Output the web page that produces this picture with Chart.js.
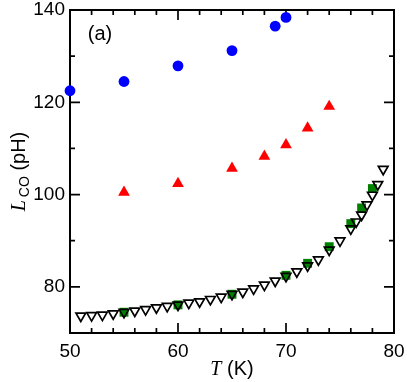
<!DOCTYPE html>
<html>
<head>
<meta charset="utf-8">
<script src="https://cdn.jsdelivr.net/npm/chart.js@4.4.0/dist/chart.umd.min.js"></script>
<style>
  body { margin: 0; background: #fff; }
  #wrap { width: 407px; height: 382px; position: relative; }
</style>
</head>
<body>
<div id="wrap"><canvas id="chartL"></canvas></div>
<script>
// blue circles
const circT = [50, 55, 60, 65, 69, 70];
const circL = [122.5, 124.5, 127.9, 131.2, 136.5, 138.4];
// red triangles
const triT = [55, 60, 65, 68, 70, 72, 74];
const triL = [100.5, 102.4, 105.7, 108.3, 110.8, 114.4, 119.1];
// green squares
const sqT = [55, 60, 65, 70, 72, 74, 76, 77, 78];
const sqL = [74.5, 76.1, 78.4, 82.5, 85.1, 88.7, 93.7, 97.1, 101.3];
// open down triangles
const invT = [51, 52, 53, 54, 55, 56, 57, 58, 59, 60, 61, 62, 63, 64, 65, 66, 67, 68, 69, 70,
  71, 72, 73, 74, 75, 76, 76.5, 77, 77.5, 78, 78.5, 79];
const invL = [73.7, 73.8, 73.9, 74.2, 74.5, 74.8, 75.1, 75.5, 75.8, 76.1, 76.5, 76.8, 77.3, 77.8, 78.4, 78.9, 79.6, 80.4, 81.3, 82.3,
  83.3, 84.6, 85.9, 88.0, 90.0, 92.6, 94.1, 95.6, 97.8, 99.9, 102.2, 105.5];

const xMin = 50, xMax = 80, xStep = 2;
const yMin = 70, yMax = 140, yStep = 10;

const SANS = "'Liberation Sans', Arial, sans-serif";
const SERIF = "'Liberation Serif', 'Times New Roman', serif";

function pts(xs, ys) {
  return xs.map((x, i) => ({ x: x, y: ys[i] }));
}

// box, inward ticks and axis titles
const frame = {
  id: 'frame',
  beforeDatasetsDraw(chart) {
    const ctx = chart.ctx;
    const a = chart.chartArea;
    const xs = chart.scales.x;
    const ys = chart.scales.y;
    ctx.save();
    ctx.strokeStyle = '#000';
    ctx.lineWidth = 2;
    ctx.strokeRect(a.left, a.top, a.right - a.left, a.bottom - a.top);

    ctx.lineWidth = 1.7;
    ctx.beginPath();
    xs.ticks.forEach(t => {
      const px = xs.getPixelForValue(t.value);
      const len = t.value % 10 === 0 ? 10 : 5;
      ctx.moveTo(px, a.bottom); ctx.lineTo(px, a.bottom - len);
      ctx.moveTo(px, a.top); ctx.lineTo(px, a.top + len);
    });
    ys.ticks.forEach(t => {
      const py = ys.getPixelForValue(t.value);
      const len = t.value % 20 === 0 ? 10 : 5;
      ctx.moveTo(a.left, py); ctx.lineTo(a.left + len, py);
      ctx.moveTo(a.right, py); ctx.lineTo(a.right - len, py);
    });
    ctx.stroke();

    ctx.fillStyle = '#000';
    ctx.textBaseline = 'alphabetic';
    ctx.textAlign = 'left';

    // x title: T (K)
    ctx.font = 'italic 20px ' + SERIF;
    const wT = ctx.measureText('T').width;
    ctx.font = '20px ' + SANS;
    const wK = ctx.measureText(' (K)').width;
    let x0 = (a.left + a.right) / 2 - (wT + wK) / 2;
    ctx.font = 'italic 20px ' + SERIF;
    ctx.fillText('T', x0, 375);
    ctx.font = '20px ' + SANS;
    ctx.fillText(' (K)', x0 + wT, 375);

    // y title: L_CO (pH)
    ctx.translate(25, (a.top + a.bottom) / 2);
    ctx.rotate(-Math.PI / 2);
    ctx.font = 'italic 20px ' + SERIF;
    const wL = ctx.measureText('L').width;
    ctx.font = '14px ' + SANS;
    const wC = ctx.measureText('CO').width;
    ctx.font = '20px ' + SANS;
    const wP = ctx.measureText(' (pH)').width;
    let s = -(wL + 3 + wC + wP) / 2;
    ctx.font = 'italic 20px ' + SERIF;
    ctx.fillText('L', s, 0);
    ctx.font = '14px ' + SANS;
    ctx.fillText('CO', s + wL + 3, 4);
    ctx.font = '20px ' + SANS;
    ctx.fillText(' (pH)', s + wL + 3 + wC, 0);
    ctx.restore();

    ctx.save();
    ctx.fillStyle = '#000';
    ctx.font = '20px ' + SANS;
    ctx.textAlign = 'center';
    ctx.textBaseline = 'middle';
    ctx.fillText('(a)', 100, 34);
    ctx.restore();
  }
};

const chart = new Chart('chartL', {
  type: 'scatter',
  data: {
    datasets: [
      {
        label: 'down triangles',
        data: pts(invT, invL),
        pointStyle: 'triangle',
        rotation: 180,
        pointRadius: 5.6,
        borderColor: '#000',
        backgroundColor: 'rgba(255,255,255,0)',
        borderWidth: 1.7,
        order: 0,
        clip: false,
      },
      {
        label: 'squares',
        data: pts(sqT, sqL),
        pointStyle: 'rect',
        pointRadius: 6.3,
        borderColor: '#008000',
        backgroundColor: '#008000',
        borderWidth: 0,
        order: 1,
        clip: false,
      },
      {
        label: 'triangles',
        data: pts(triT, triL),
        pointStyle: 'triangle',
        pointRadius: 6.8,
        borderColor: '#ff0000',
        backgroundColor: '#ff0000',
        borderWidth: 0,
        order: 2,
        clip: false,
      },
      {
        label: 'circles',
        data: pts(circT, circL),
        pointStyle: 'circle',
        pointRadius: 5.4,
        borderColor: '#0000ff',
        backgroundColor: '#0000ff',
        borderWidth: 0,
        order: 3,
        clip: false,
      },
    ],
  },
  options: {
    responsive: true,
    maintainAspectRatio: false,
    animation: false,
    layout: { padding: { left: 0, top: 10, right: 13, bottom: 0 } },
    plugins: {
      legend: { display: false },
      tooltip: { enabled: false },
    },
    scales: {
      x: {
        type: 'linear',
        min: xMin,
        max: xMax,
        grid: { display: false, drawTicks: false },
        border: { display: false },
        ticks: {
          stepSize: xStep,
          autoSkip: false,
          maxRotation: 0,
          padding: 7,
          color: '#000',
          font: { family: SANS, size: 19 },
          callback: v => (v % 10 === 0 ? v : ''),
        },
        afterFit(scale) {
          scale.height = 49;
          scale.paddingLeft = 0;
          scale.paddingRight = 0;
        },
      },
      y: {
        type: 'linear',
        min: yMin,
        max: yMax,
        grid: { display: false, drawTicks: false },
        border: { display: false },
        ticks: {
          stepSize: yStep,
          autoSkip: false,
          padding: 5,
          color: '#000',
          font: { family: SANS, size: 19, lineHeight: 1 },
          callback: v => (v % 20 === 0 ? v : ''),
        },
        afterFit(scale) {
          scale.width = 70;
          scale.paddingTop = 0;
          scale.paddingBottom = 0;
        },
      },
    },
  },
  plugins: [frame],
});
</script>
</body>
</html>
